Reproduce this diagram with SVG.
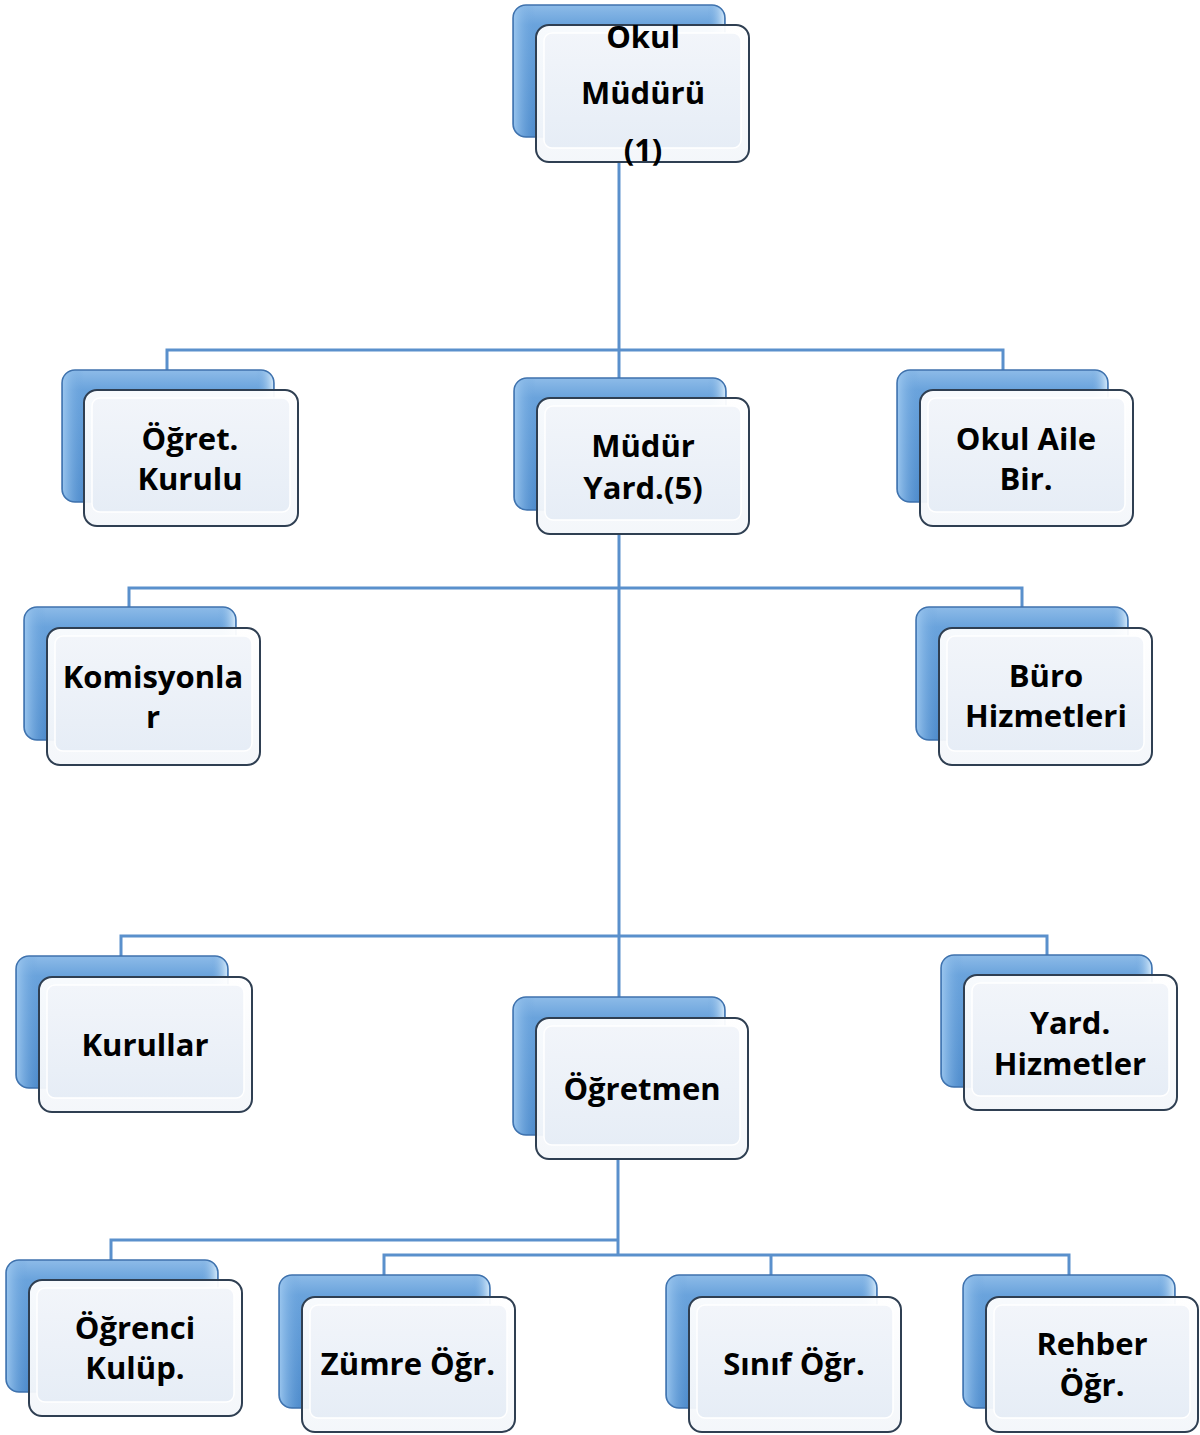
<svg xmlns="http://www.w3.org/2000/svg" width="1200" height="1435" viewBox="0 0 1200 1435">
<defs>
<linearGradient id="gBack" x1="0" y1="0" x2="0" y2="1">
<stop offset="0" stop-color="#8dbbe8"/>
<stop offset="0.15" stop-color="#6aa3dc"/>
<stop offset="1" stop-color="#4f8ccc"/>
</linearGradient>
<linearGradient id="gBackSide" x1="0" y1="0" x2="1" y2="0">
<stop offset="0" stop-color="#9cc7ef" stop-opacity="0.9"/>
<stop offset="0.1" stop-color="#6aa3dc" stop-opacity="0"/>
<stop offset="0.92" stop-color="#6aa3dc" stop-opacity="0"/>
<stop offset="1" stop-color="#d8ecfb" stop-opacity="0.9"/>
</linearGradient>
<linearGradient id="gFront" x1="0" y1="0" x2="0" y2="1">
<stop offset="0" stop-color="#ffffff"/>
<stop offset="1" stop-color="#f3f6fa"/>
</linearGradient>
<linearGradient id="gInner" x1="0" y1="0" x2="0" y2="1">
<stop offset="0" stop-color="#f2f5fa"/>
<stop offset="1" stop-color="#e6edf6"/>
</linearGradient>
</defs>
<style>
.conn{fill:none;stroke:#5a90cc;stroke-width:3;}
.back{fill:url(#gBack);stroke:#3f72ad;stroke-width:1.5;}
.backHi{fill:url(#gBackSide);stroke:none;}
.front{fill:url(#gFront);stroke:#2f3f52;stroke-width:2;fill-opacity:0.95;}
.inner{fill:url(#gInner);stroke:#ffffff;stroke-width:1.5;}
.t{font-family:"Open Sans","Noto Sans","Liberation Sans",sans-serif;font-weight:700;font-size:31px;fill:#000;text-anchor:middle;dominant-baseline:central;}
</style>
<rect width="1200" height="1435" fill="#ffffff"/>
<g id="connectors">
<path class="conn" d="M619,162 V378"/>
<path class="conn" d="M167,370 V350 H1003 V370"/>
<path class="conn" d="M619,534 V997"/>
<path class="conn" d="M129,607 V588 H1022 V607"/>
<path class="conn" d="M121,956 V936 H1047 V955"/>
<path class="conn" d="M618,1159 V1255"/>
<path class="conn" d="M111,1260 V1240 H618"/>
<path class="conn" d="M384,1275 V1255 H1069 V1275"/>
<path class="conn" d="M771,1255 V1275"/>
</g>
<g id="n-okul-muduru">
<rect class="back" x="513" y="5" width="212" height="132" rx="13"/>
<rect class="backHi" x="514" y="6" width="210" height="130" rx="12"/>
<rect class="front" x="536" y="25" width="213" height="137" rx="13"/>
<rect class="inner" x="544" y="33" width="197" height="115" rx="8"/>
<text class="t" x="643" y="36">Okul</text>
<text class="t" x="643" y="92">Müdürü</text>
<text class="t" x="643" y="149">(1)</text>
</g>
<g id="n-ogret-kurulu">
<rect class="back" x="62" y="370" width="212" height="132" rx="13"/>
<rect class="backHi" x="63" y="371" width="210" height="130" rx="12"/>
<rect class="front" x="84" y="390" width="214" height="136" rx="13"/>
<rect class="inner" x="92" y="398" width="198" height="114" rx="8"/>
<text class="t" x="190" y="438">Öğret.</text>
<text class="t" x="190" y="478">Kurulu</text>
</g>
<g id="n-mudur-yard">
<rect class="back" x="514" y="378" width="212" height="132" rx="13"/>
<rect class="backHi" x="515" y="379" width="210" height="130" rx="12"/>
<rect class="front" x="537" y="398" width="212" height="136" rx="13"/>
<rect class="inner" x="545" y="406" width="196" height="114" rx="8"/>
<text class="t" x="643" y="445">Müdür</text>
<text class="t" x="643" y="487">Yard.(5)</text>
</g>
<g id="n-okul-aile">
<rect class="back" x="897" y="370" width="211" height="132" rx="13"/>
<rect class="backHi" x="898" y="371" width="209" height="130" rx="12"/>
<rect class="front" x="920" y="390" width="213" height="136" rx="13"/>
<rect class="inner" x="928" y="398" width="197" height="114" rx="8"/>
<text class="t" x="1026" y="438">Okul Aile</text>
<text class="t" x="1026" y="478">Bir.</text>
</g>
<g id="n-komisyonlar">
<rect class="back" x="24" y="607" width="212" height="133" rx="13"/>
<rect class="backHi" x="25" y="608" width="210" height="131" rx="12"/>
<rect class="front" x="47" y="628" width="213" height="137" rx="13"/>
<rect class="inner" x="55" y="636" width="197" height="115" rx="8"/>
<text class="t" x="153" y="676">Komisyonla</text>
<text class="t" x="153" y="716">r</text>
</g>
<g id="n-buro">
<rect class="back" x="916" y="607" width="212" height="133" rx="13"/>
<rect class="backHi" x="917" y="608" width="210" height="131" rx="12"/>
<rect class="front" x="939" y="628" width="213" height="137" rx="13"/>
<rect class="inner" x="947" y="636" width="197" height="115" rx="8"/>
<text class="t" x="1046" y="675">Büro</text>
<text class="t" x="1046" y="715">Hizmetleri</text>
</g>
<g id="n-kurullar">
<rect class="back" x="16" y="956" width="212" height="132" rx="13"/>
<rect class="backHi" x="17" y="957" width="210" height="130" rx="12"/>
<rect class="front" x="39" y="977" width="213" height="135" rx="13"/>
<rect class="inner" x="47" y="985" width="197" height="113" rx="8"/>
<text class="t" x="145" y="1044">Kurullar</text>
</g>
<g id="n-ogretmen">
<rect class="back" x="513" y="997" width="212" height="138" rx="13"/>
<rect class="backHi" x="514" y="998" width="210" height="136" rx="12"/>
<rect class="front" x="536" y="1018" width="212" height="141" rx="13"/>
<rect class="inner" x="544" y="1026" width="196" height="119" rx="8"/>
<text class="t" x="642" y="1088">Öğretmen</text>
</g>
<g id="n-yard-hizmetler">
<rect class="back" x="941" y="955" width="211" height="132" rx="13"/>
<rect class="backHi" x="942" y="956" width="209" height="130" rx="12"/>
<rect class="front" x="964" y="975" width="213" height="135" rx="13"/>
<rect class="inner" x="972" y="983" width="197" height="113" rx="8"/>
<text class="t" x="1070" y="1022">Yard.</text>
<text class="t" x="1070" y="1063">Hizmetler</text>
</g>
<g id="n-ogrenci-kulup">
<rect class="back" x="6" y="1260" width="212" height="132" rx="13"/>
<rect class="backHi" x="7" y="1261" width="210" height="130" rx="12"/>
<rect class="front" x="29" y="1280" width="213" height="136" rx="13"/>
<rect class="inner" x="37" y="1288" width="197" height="114" rx="8"/>
<text class="t" x="135" y="1327">Öğrenci</text>
<text class="t" x="135" y="1367">Kulüp.</text>
</g>
<g id="n-zumre">
<rect class="back" x="279" y="1275" width="211" height="133" rx="13"/>
<rect class="backHi" x="280" y="1276" width="209" height="131" rx="12"/>
<rect class="front" x="302" y="1297" width="213" height="135" rx="13"/>
<rect class="inner" x="310" y="1305" width="197" height="113" rx="8"/>
<text class="t" x="408" y="1363">Zümre Öğr.</text>
</g>
<g id="n-sinif">
<rect class="back" x="666" y="1275" width="211" height="133" rx="13"/>
<rect class="backHi" x="667" y="1276" width="209" height="131" rx="12"/>
<rect class="front" x="689" y="1297" width="212" height="135" rx="13"/>
<rect class="inner" x="697" y="1305" width="196" height="113" rx="8"/>
<text class="t" x="794" y="1363">Sınıf Öğr.</text>
</g>
<g id="n-rehber">
<rect class="back" x="963" y="1275" width="212" height="133" rx="13"/>
<rect class="backHi" x="964" y="1276" width="210" height="131" rx="12"/>
<rect class="front" x="986" y="1297" width="212" height="135" rx="13"/>
<rect class="inner" x="994" y="1305" width="196" height="113" rx="8"/>
<text class="t" x="1092" y="1343">Rehber</text>
<text class="t" x="1092" y="1384">Öğr.</text>
</g>
</svg>
